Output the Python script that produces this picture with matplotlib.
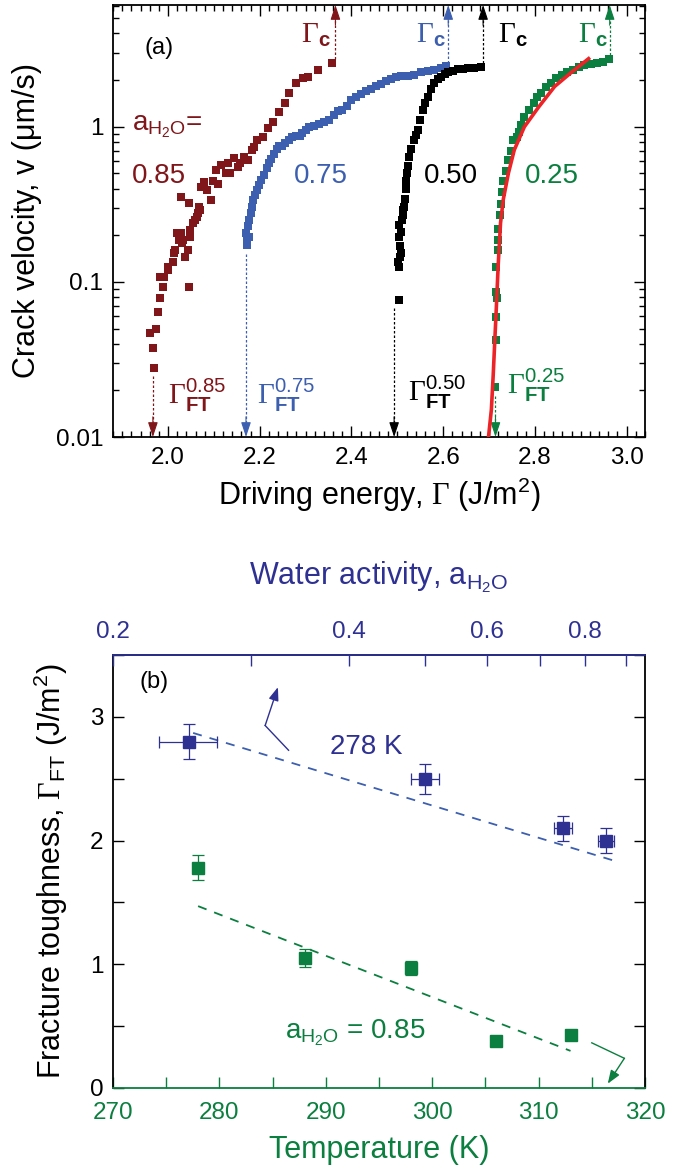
import matplotlib
matplotlib.use('Agg')
import matplotlib.pyplot as plt
from matplotlib.ticker import MultipleLocator, FixedLocator, NullFormatter, FuncFormatter, LogLocator

plt.rcParams['font.family'] = ['Liberation Sans', 'DejaVu Sans']
plt.rcParams['mathtext.fontset'] = 'custom'
plt.rcParams['mathtext.rm'] = 'Liberation Serif'
plt.rcParams['mathtext.sf'] = 'Liberation Sans'
plt.rcParams['mathtext.bf'] = 'Liberation Sans:bold'
plt.rcParams['mathtext.it'] = 'Liberation Sans:italic'

# ---------------- data: panel (a) ----------------
red_x = [1.970, 1.968, 1.961, 1.974, 1.978, 1.983, 1.983, 1.989, 1.991, 2.000,
         2.000, 2.011, 2.013, 2.016, 2.024, 2.028, 2.031, 2.038, 2.044, 2.046,
         2.048, 2.054, 2.059, 2.065, 2.067, 2.070, 2.020, 2.033, 2.048, 2.063,
         2.028, 2.046, 2.072, 2.078, 2.086, 2.093, 2.099, 2.104, 2.108, 2.115,
         2.126, 2.130, 2.136, 2.143, 2.152, 2.158, 2.165, 2.174, 2.184, 2.187,
         2.195, 2.208, 2.217, 2.228, 2.241, 2.256, 2.263, 2.278, 2.295, 2.306,
         2.328, 2.358]
red_v = [0.028, 0.0375, 0.047, 0.050, 0.064, 0.079, 0.108, 0.093, 0.108, 0.119,
         0.125, 0.135, 0.154, 0.16, 0.187, 0.207, 0.178, 0.145, 0.161, 0.093,
         0.195, 0.240, 0.25, 0.279, 0.305, 0.29, 0.207, 0.187, 0.216, 0.262,
         0.353, 0.323, 0.410, 0.442, 0.39, 0.338, 0.45, 0.528, 0.43, 0.569,
         0.505, 0.586, 0.50, 0.631, 0.552, 0.58, 0.640, 0.612, 0.71, 0.743,
         0.824, 0.861, 0.986, 1.08, 1.25, 1.43, 1.66, 1.92, 2.07, 2.10,
         2.33, 2.59]

blue_x = [2.173, 2.176, 2.1725, 2.171, 2.174, 2.176, 2.180, 2.183, 2.186, 2.189,
          2.193, 2.198, 2.203, 2.209, 2.216, 2.220, 2.225, 2.231, 2.237, 2.242,
          2.249, 2.256, 2.264, 2.271, 2.278, 2.288, 2.293, 2.300, 2.307, 2.318,
          2.329, 2.340, 2.351, 2.362, 2.371, 2.380, 2.391, 2.399, 2.410, 2.420,
          2.431, 2.442, 2.453, 2.464, 2.475, 2.486, 2.497, 2.508, 2.523, 2.537,
          2.552, 2.566, 2.581, 2.596, 2.606]
blue_v = [0.173, 0.196, 0.187, 0.206, 0.228, 0.251, 0.277, 0.306, 0.338, 0.364,
          0.392, 0.423, 0.455, 0.490, 0.541, 0.582, 0.618, 0.669, 0.718, 0.747,
          0.755, 0.785, 0.824, 0.859, 0.875, 0.868, 0.91, 0.957, 0.995, 1.015,
          1.045, 1.066, 1.109, 1.195, 1.256, 1.288, 1.366, 1.493, 1.567, 1.632,
          1.689, 1.750, 1.820, 1.893, 1.960, 2.03, 2.09, 2.13, 2.13, 2.17,
          2.24, 2.29, 2.33, 2.39, 2.45]

black_x = [2.504, 2.504, 2.502, 2.506, 2.508, 2.506, 2.504, 2.508, 2.504, 2.510,
           2.512, 2.513, 2.515, 2.517, 2.518, 2.519, 2.520, 2.523, 2.526, 2.530,
           2.536, 2.540, 2.545, 2.550, 2.556, 2.561, 2.567, 2.573, 2.580, 2.588,
           2.596, 2.603, 2.611, 2.622, 2.633, 2.644, 2.655, 2.668, 2.683]
black_v = [0.0766, 0.125, 0.135, 0.145, 0.154, 0.17, 0.195, 0.21, 0.234, 0.25,
           0.27, 0.29, 0.305, 0.34, 0.40, 0.45, 0.50, 0.56, 0.64, 0.72,
           0.82, 0.88, 0.955, 1.10, 1.29, 1.42, 1.56, 1.75, 1.92, 2.02,
           2.10, 2.18, 2.25, 2.30, 2.35, 2.37, 2.39, 2.41, 2.43]

green_x = [2.712, 2.716, 2.716, 2.718, 2.716, 2.716, 2.720, 2.720, 2.720, 2.724,
           2.727, 2.728, 2.731, 2.736, 2.742, 2.748, 2.753, 2.760, 2.766, 2.770,
           2.777, 2.786, 2.797, 2.805, 2.814, 2.825, 2.836, 2.847, 2.858, 2.870,
           2.884, 2.896, 2.908, 2.922, 2.935, 2.948, 2.961]
green_v = [0.021, 0.042, 0.059, 0.079, 0.086, 0.125, 0.16, 0.187, 0.22, 0.27,
           0.32, 0.38, 0.45, 0.52, 0.61, 0.70, 0.82, 0.86, 0.92, 1.02,
           1.16, 1.28, 1.42, 1.55, 1.66, 1.80, 1.92, 2.05, 2.16, 2.25,
           2.33, 2.42, 2.52, 2.55, 2.59, 2.60, 2.75]

fit_x = [2.698, 2.705, 2.709, 2.713, 2.716, 2.720, 2.725, 2.731, 2.742, 2.755,
         2.777, 2.808, 2.843, 2.880, 2.917]
fit_v = [0.0095, 0.015, 0.025, 0.045, 0.07, 0.13, 0.24, 0.34, 0.50, 0.71,
         1.0, 1.34, 1.82, 2.25, 2.75]

aw_labels = ['0.85', '0.75', '0.50', '0.25']
gamma_ft = [1.967, 2.170, 2.493, 2.714]
gamma_c = [2.365, 2.611, 2.687, 2.963]

# ---------------- data: panel (b) ----------------
temp_K = [278, 288, 298, 306, 313]
gft_T = [1.78, 1.05, 0.97, 0.38, 0.43]
gft_T_err = [0.10, 0.07, 0.06, 0.0, 0.0]
fitT_x = [278, 313]
fitT_y = [1.47, 0.30]

aw = [0.25, 0.50, 0.75, 0.85]
gft_a = [2.80, 2.50, 2.10, 2.00]
gft_a_err = [0.14, 0.12, 0.10, 0.10]
aw_err = [0.021, 0.021, 0.02, 0.02]
fita_x = [0.253, 0.878]
fita_y = [2.87, 1.83]

C_RED = '#80161a'
C_BLUE = '#3d5fb0'
C_BLACK = '#000000'
C_GREEN = '#0b7f3f'
C_FIT = '#ec2327'
C_NAVY = '#2e3192'

W, H = 681, 1173
fig = plt.figure(figsize=(W / 100, H / 100), dpi=100)
ax_a = fig.add_axes([113 / W, 1 - 437 / H, 532 / W, 432 / H])
ax_b = fig.add_axes([113 / W, 1 - 1088 / H, 532 / W, 433 / H])

# ---------------- panel (a) ----------------
ax = ax_a
ax.set_yscale('log')
ax.set_xlim(1.88, 3.04)
ax.set_ylim(0.01, 6.1)
ms = 5.6
series = [(red_x, red_v, C_RED), (blue_x, blue_v, C_BLUE),
          (black_x, black_v, C_BLACK), (green_x, green_v, C_GREEN)]
for xs, vs, c in series:
    ax.plot(xs, vs, ls='none', marker='s', ms=ms, mfc=c, mec=c, mew=0)
ax.plot(fit_x, fit_v, color=C_FIT, lw=2.6, clip_on=True, zorder=5)

colors = [C_RED, C_BLUE, C_BLACK, C_GREEN]
ymin, ymax = ax.get_ylim()
for (xs, vs, c), gft, gc in zip(series, gamma_ft, gamma_c):
    v_lo = min(vs) * 0.88
    ax.plot([gft, gft], [v_lo, ymin * 1.25], ls=(0, (2, 1.6)), lw=0.9, color=c)
    ax.annotate('', xy=(gft, ymin), xytext=(gft, ymin * 1.35),
                arrowprops=dict(arrowstyle='-|>,head_length=0.9,head_width=0.3',
                                color=c, lw=0.8, shrinkA=0, shrinkB=0),
                annotation_clip=False)
    v_hi = max(vs) * 1.06
    ax.plot([gc, gc], [v_hi, ymax / 1.25], ls=(0, (2, 1.6)), lw=0.9, color=c)
    ax.annotate('', xy=(gc, ymax), xytext=(gc, ymax / 1.35),
                arrowprops=dict(arrowstyle='-|>,head_length=0.9,head_width=0.3',
                                color=c, lw=0.8, shrinkA=0, shrinkB=0),
                annotation_clip=False)

# Gamma_c labels
gc_lab_x = [2.289, 2.541, 2.720, 2.895]
for xl, c in zip(gc_lab_x, colors):
    ax.text(xl, 3.9, r'$\Gamma_{\mathbf{c}}$', color=c, fontsize=21,
            ha='left', va='center')
# Gamma_FT labels
gft_lab_x = [2.000, 2.195, 2.523, 2.740]
gft_lab_y = [0.0185, 0.0185, 0.0195, 0.0215]
for xl, yl, lab, c in zip(gft_lab_x, gft_lab_y, aw_labels, colors):
    ax.text(xl, yl, r'$\Gamma_{\mathbf{FT}}^{\mathsf{%s}}$' % lab, color=c,
            fontsize=21, ha='left', va='center')

# series labels
ax.text(1.922, 1.0, r'a$_{\mathsf{H_2O}}$=', color=C_RED,
        fontsize=20, ha='left', va='center')
lab_x = [1.922, 2.274, 2.558, 2.777]
for xl, lab, c in zip(lab_x, aw_labels, colors):
    ax.text(xl, 0.48, lab, color=c, fontsize=20, ha='left', va='center')
ax.text(0.06, 0.90, '(a)', transform=ax.transAxes, fontsize=17,
        ha='left', va='center')

ax.xaxis.set_major_locator(MultipleLocator(0.2))
ax.xaxis.set_minor_locator(MultipleLocator(0.02))
ax.xaxis.set_major_formatter(FuncFormatter(lambda v, p: '%.1f' % v))
ax.yaxis.set_major_locator(LogLocator(base=10, numticks=10))
ax.yaxis.set_minor_locator(LogLocator(base=10, subs=range(2, 10), numticks=20))
ax.yaxis.set_major_formatter(FuncFormatter(lambda v, p: '%g' % v))
ax.yaxis.set_minor_formatter(NullFormatter())
ax.tick_params(which='both', direction='in', top=True, right=True,
               labelsize=17.5, width=1.0)
ax.tick_params(which='major', length=8, pad=7)
ax.tick_params(which='minor', length=4)
for s in ax.spines.values():
    s.set_linewidth(1.3)
ax.set_xlabel(r'Driving energy, $\Gamma$ (J/m$^{\mathsf{2}}$)', fontsize=22,
              labelpad=5)
ax.set_ylabel('Crack velocity, v (\u03bcm/s)', fontsize=22, labelpad=10)

# ---------------- panel (b) ----------------
ax = ax_b
ax.set_xlim(270, 320)
ax.set_ylim(0, 3.5)
ax.errorbar(temp_K, gft_T, yerr=gft_T_err, fmt='s', ms=8.5, color=C_GREEN,
            mec=C_GREEN, ecolor=C_GREEN, elinewidth=0.9, capsize=4,
            capthick=0.9, zorder=4)
ax.plot(fitT_x, fitT_y, ls=(0, (5, 4.5)), color=C_GREEN, lw=1.3)

ax.text(286.2, 0.45, r'a$_{\mathsf{H_2O}}$ = 0.85',
        color=C_GREEN, fontsize=20, ha='left', va='center')
ax.text(290.4, 2.76, '278 K', color=C_NAVY, fontsize=20, ha='left', va='center')
ax.text(272.5, 3.28, '(b)', fontsize=17, ha='left', va='center')

# annotation arrows
ax.plot([286.5, 284.3], [2.73, 2.93], color=C_NAVY, lw=1.0)
ax.annotate('', xy=(285.5, 3.24), xytext=(284.3, 2.93),
            arrowprops=dict(arrowstyle='-|>,head_length=0.8,head_width=0.3',
                            color=C_NAVY, lw=1.0, shrinkA=0, shrinkB=0))
ax.plot([315.0, 318.06], [0.365, 0.24], color=C_GREEN, lw=1.0)
ax.annotate('', xy=(316.5, 0.035), xytext=(318.06, 0.24),
            arrowprops=dict(arrowstyle='-|>,head_length=0.8,head_width=0.3',
                            color=C_GREEN, lw=1.0, shrinkA=0, shrinkB=0))

ax.xaxis.set_major_locator(MultipleLocator(10))
ax.xaxis.set_minor_locator(MultipleLocator(5))
ax.yaxis.set_major_locator(MultipleLocator(1))
ax.yaxis.set_minor_locator(MultipleLocator(0.5))
ax.tick_params(which='both', direction='in', right=True, top=False, width=1.0,
               labelsize=17.5)
ax.tick_params(which='major', length=8, pad=7)
ax.tick_params(which='minor', length=8)
ax.tick_params(axis='x', which='both', colors=C_GREEN, labelcolor=C_GREEN, pad=10)
ax.spines['bottom'].set_color(C_GREEN)
for s in ax.spines.values():
    s.set_linewidth(1.3)
ax.set_xlabel('Temperature (K)', color=C_GREEN, fontsize=22, labelpad=8)
ax.set_ylabel(r'Fracture toughness, $\Gamma_{\mathsf{FT}}$ (J/m$^{\mathsf{2}}$)',
              fontsize=22, labelpad=14)

axt = ax.twiny()
axt.set_xscale('log')
axt.set_xlim(0.2, 0.953)
axt.errorbar(aw, gft_a, yerr=gft_a_err, xerr=aw_err, fmt='s', ms=8.5,
             color=C_NAVY, mec=C_NAVY, ecolor=C_NAVY, elinewidth=0.9,
             capsize=4, capthick=0.9, zorder=4)
axt.plot(fita_x, fita_y, ls=(0, (5, 4.5)), color=C_BLUE, lw=1.3)
axt.xaxis.set_major_locator(FixedLocator([0.2, 0.4, 0.6, 0.8]))
axt.xaxis.set_minor_locator(FixedLocator([0.3, 0.5, 0.7, 0.9]))
axt.xaxis.set_major_formatter(FuncFormatter(lambda v, p: '%.1f' % v))
axt.xaxis.set_minor_formatter(NullFormatter())
axt.tick_params(which='both', direction='in', length=8, width=1.0,
                colors=C_NAVY, labelcolor=C_NAVY, labelsize=17.5, pad=9)
axt.spines['top'].set_color(C_NAVY)
for s in axt.spines.values():
    s.set_linewidth(1.3)
axt.spines['bottom'].set_visible(False)
axt.spines['left'].set_visible(False)
axt.spines['right'].set_visible(False)
axt.set_xlabel(r'Water activity, a$_{\mathsf{H_2O}}$', color=C_NAVY,
               fontsize=22, labelpad=26)

fig.savefig('out.png', dpi=100)
